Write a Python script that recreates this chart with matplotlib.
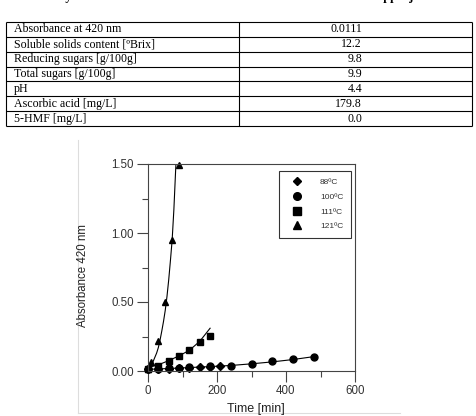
import matplotlib
matplotlib.use('Agg')
import matplotlib.pyplot as plt
from matplotlib.ticker import FixedLocator, FormatStrFormatter

# ---------------- data ----------------
caption_left = "Table 1. Physicochemical characteristics of the clarified"
caption_right = "apple juice"

table_labels = ["Absorbance at 420 nm", "Soluble solids content [ºBrix]",
                "Reducing sugars [g/100g]", "Total sugars [g/100g]", "pH",
                "Ascorbic acid [mg/L]", "5-HMF [mg/L]"]
table_values = ["0.0111", "12.2", "9.8", "9.9", "4.4", "179.8", "0.0"]

series_labels = ["88ºC", "100ºC", "111ºC", "121ºC"]
t_88 = [0, 30, 60, 90, 120, 150, 180, 210]
a_88 = [0.011, 0.012, 0.017, 0.022, 0.025, 0.030, 0.032, 0.035]
t_100 = [0, 30, 60, 90, 120, 180, 240, 300, 360, 420, 480]
a_100 = [0.011, 0.015, 0.019, 0.025, 0.026, 0.034, 0.038, 0.052, 0.075, 0.086, 0.102]
t_111 = [0, 30, 60, 90, 120, 150, 180]
a_111 = [0.011, 0.035, 0.070, 0.110, 0.150, 0.210, 0.255]
t_121 = [0, 10, 30, 50, 70, 90]
a_121 = [0.011, 0.065, 0.22, 0.50, 0.95, 1.49]

# fitted curves
fit_t_100 = [0, 60, 120, 180, 240, 300, 360, 420, 480]
fit_a_100 = [0.012, 0.018, 0.025, 0.032, 0.040, 0.052, 0.066, 0.083, 0.104]
fit_t_111 = [0, 30, 60, 90, 120, 150, 180]
fit_a_111 = [0.025, 0.045, 0.075, 0.11, 0.15, 0.215, 0.31]
fit_t_121 = [0, 5, 10, 15, 20, 25, 30, 35, 40, 45, 50, 55, 60, 65, 70, 75, 80, 82]
fit_a_121 = [0.02, 0.035, 0.05, 0.07, 0.10, 0.13, 0.17, 0.225, 0.29, 0.36, 0.44,
             0.54, 0.66, 0.80, 0.95, 1.17, 1.45, 1.55]

x_major = [0, 200, 400, 600]
x_minor = [100, 300, 500]
y_major = [0.0, 0.5, 1.0, 1.5]
y_minor = [0.25, 0.75, 1.25]

# ---------------- figure ----------------
W, H = 476, 416
fig = plt.figure(figsize=(W / 100, H / 100), dpi=100)

bg = fig.add_axes([0, 0, 1, 1], zorder=0)
bg.set_xlim(0, W)
bg.set_ylim(H, 0)
bg.axis('off')

serif = ['Liberation Serif', 'DejaVu Serif']
sans = ['Liberation Sans', 'DejaVu Sans']

# caption of the page, cut by the top edge of the scan (only descenders show)
bg.text(6, 0.4, caption_left, family=serif, fontweight='bold', fontsize=9,
        ha='left', va='baseline')
bg.text(377, 0.4, caption_right, family=serif, fontweight='bold', fontsize=9,
        ha='left', va='baseline')

# table
t_left, t_right, t_mid = 6, 472, 239
t_top, t_bot = 22, 126
n = len(table_labels)
rh = (t_bot - t_top) / n
edges = [t_top + i * rh for i in range(n + 1)]
bg.hlines(edges, t_left, t_right, color='black', lw=0.8)
bg.vlines([t_left, t_mid, t_right], t_top, t_bot, color='black', lw=0.8)
for i, (lab, val) in enumerate(zip(table_labels, table_values)):
    yb = t_top + i * rh + 10.5
    bg.text(14, yb, lab, family=serif, fontsize=8.6, ha='left', va='baseline')
    bg.text(362, yb, val, family=serif, fontsize=8.6, ha='right', va='baseline')

# faint scan frame around the chart
bg.plot([78, 78], [140, 413], color='#dddddd', lw=0.8)
bg.plot([78, 400], [413, 413], color='#dddddd', lw=0.8)

# chart axes: left 148, right 355, top 164, bottom 371 (px)
ax = fig.add_axes([148 / W, (H - 371) / H, 207 / W, 207 / H], zorder=2)
ax.set_facecolor('none')
ax.set_xlim(0, 600)
ax.set_ylim(0, 1.5)

ms = 5
ax.plot(fit_t_100, fit_a_100, color='black', lw=0.8)
ax.plot(fit_t_111, fit_a_111, color='black', lw=0.8)
ax.plot(fit_t_121, fit_a_121, color='black', lw=0.8)
ax.plot(t_88, a_88, ls='none', marker='D', ms=3.8, color='black',
        label=series_labels[0], clip_on=False)
ax.plot(t_100, a_100, ls='none', marker='o', ms=ms, color='black',
        label=series_labels[1], clip_on=False)
ax.plot(t_111, a_111, ls='none', marker='s', ms=ms, color='black',
        label=series_labels[2], clip_on=False)
ax.plot(t_121, a_121, ls='none', marker='^', ms=ms, color='black',
        label=series_labels[3], clip_on=False)

ax.xaxis.set_major_locator(FixedLocator(x_major))
ax.xaxis.set_minor_locator(FixedLocator(x_minor))
ax.yaxis.set_major_locator(FixedLocator(y_major))
ax.yaxis.set_minor_locator(FixedLocator(y_minor))
ax.yaxis.set_major_formatter(FormatStrFormatter('%.2f'))

sc = '#444444'
for s in ax.spines.values():
    s.set_color(sc)
    s.set_linewidth(0.8)
ax.tick_params(which='major', direction='out', length=8, width=0.8, color=sc,
               labelsize=8.3, labelcolor='#333333', pad=2)
ax.tick_params(which='minor', direction='out', length=4.5, width=0.8, color=sc)
for lbl in ax.get_xticklabels() + ax.get_yticklabels():
    lbl.set_family(sans)

ax.set_xlabel('Time [min]', family=sans, fontsize=9, color='#222222')
ax.set_ylabel('Absorbance 420 nm', family=sans, fontsize=8.3, color='#222222')
ax.xaxis.set_label_coords(0.52, -0.155)
ax.yaxis.set_label_coords(-0.285, 0.46)

leg = ax.legend(loc='upper left', bbox_to_anchor=(0.633, 0.966),
                frameon=True, fancybox=False, edgecolor='black',
                prop={'family': sans, 'size': 6}, labelspacing=0.82,
                borderpad=0.9, handlelength=2.5, handletextpad=1.5,
                borderaxespad=0, markerscale=1.1)
leg.get_frame().set_linewidth(0.8)
for tx in leg.get_texts():
    tx.set_color('#333333')

fig.savefig('out.png', dpi=100)
